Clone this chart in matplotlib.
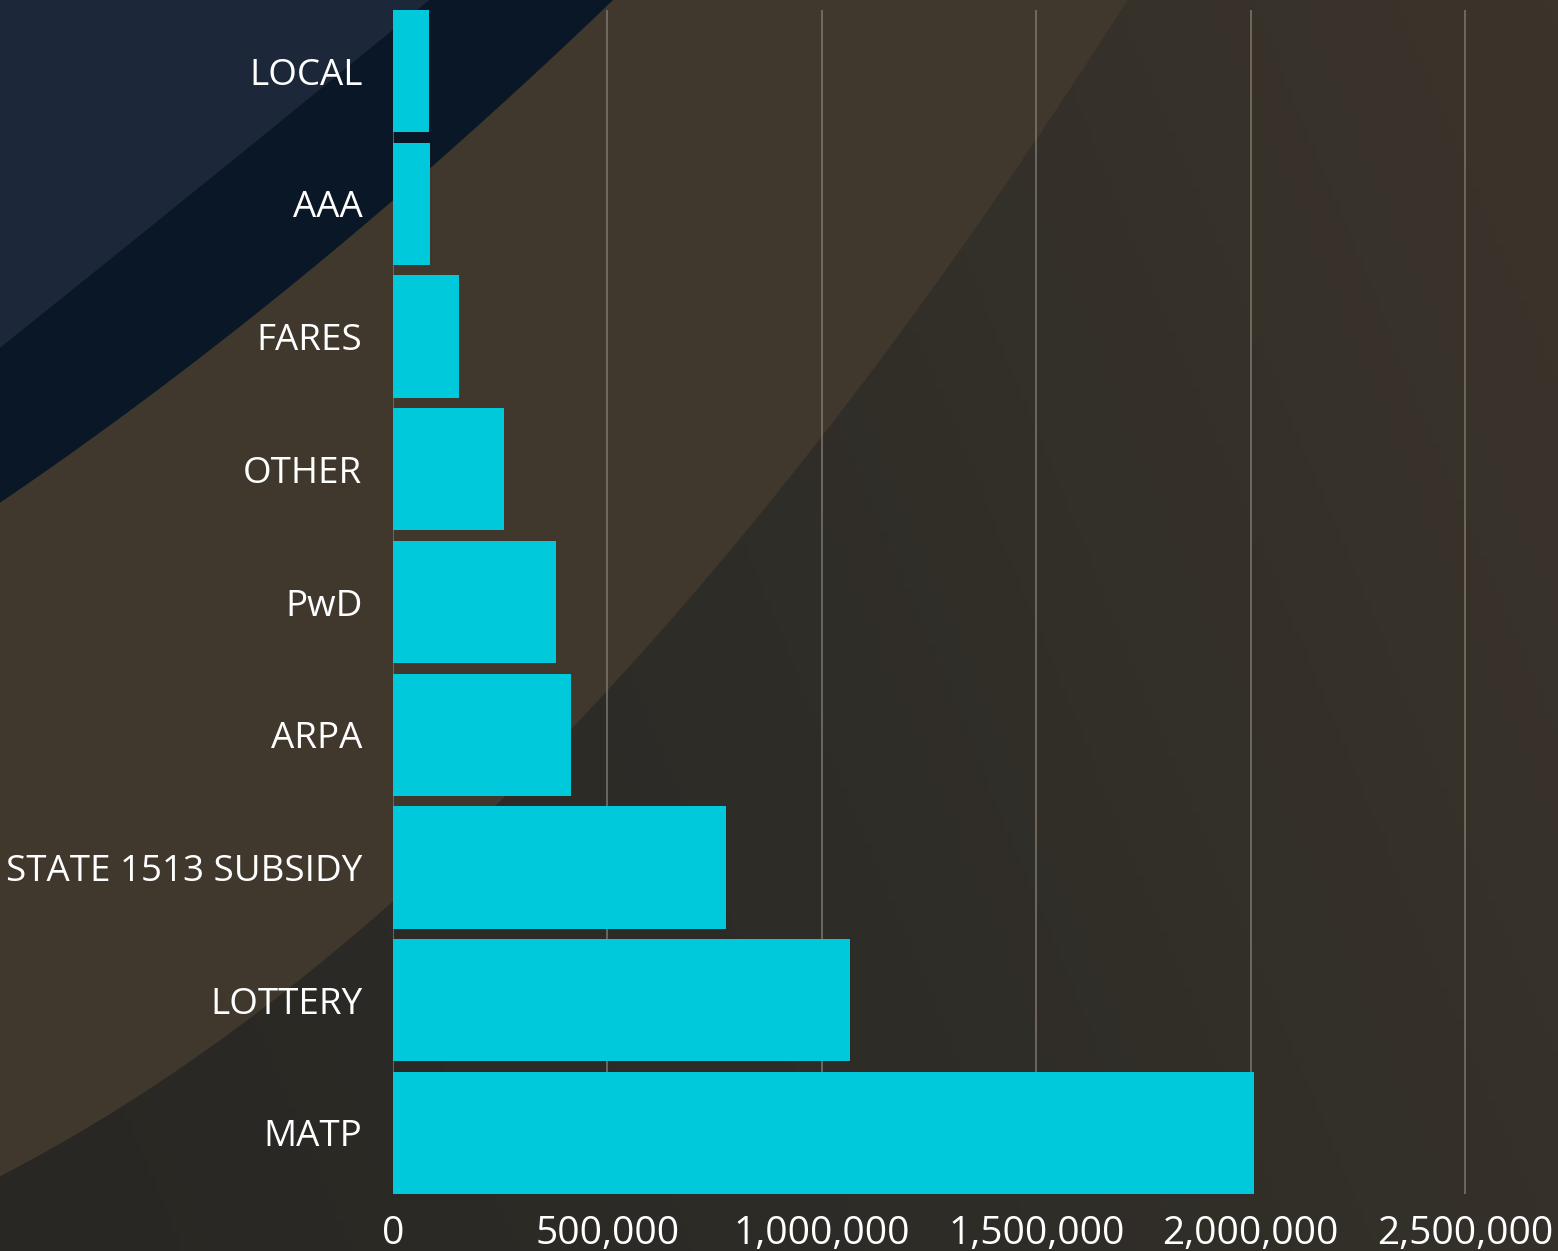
import numpy as np
import matplotlib.pyplot as plt
from matplotlib.colors import LinearSegmentedColormap
from matplotlib.ticker import FuncFormatter

# data (top to bottom)
categories = ['LOCAL', 'AAA', 'FARES', 'OTHER', 'PwD', 'ARPA',
              'STATE 1513 SUBSIDY', 'LOTTERY', 'MATP']
values = [84000, 86000, 154000, 259000, 380000, 415000, 776000, 1065000, 2007000]
xticks = [0, 500000, 1000000, 1500000, 2000000, 2500000]

plt.rcParams['font.family'] = ['Open Sans', 'DejaVu Sans']

W, H = 1558, 1251
fig = plt.figure(figsize=(W / 100, H / 100), dpi=100)

# background decoration in pixel coords (y down)
bg = fig.add_axes([0, 0, 1, 1])
bg.set_xlim(0, W)
bg.set_ylim(H, 0)
bg.axis('off')
grad = LinearSegmentedColormap.from_list('g', ['#282723', '#2f2d28', '#3b342b'])
gx, gy = np.meshgrid(np.linspace(0, 1, 200), np.linspace(0, 1, 200))
bg.imshow(gx * 0.75 + (1 - gy) * 0.25, cmap=grad, extent=[0, W, H, 0], aspect='auto')

xs = np.linspace(0, W, 400)


def band(pts, color):
    px, py = zip(*pts)
    c = np.polyfit(px, py, 2)
    yy = np.polyval(c, xs)
    bg.fill_between(xs, -10, yy, color=color, lw=0)


band([(0, 1180), (393, 892), (607, 688), (822, 443), (900, 342), (1035, 143), (1122, 0)], '#40382d')
band([(0, 504), (196, 357), (392, 205), (430, 168), (612, 0)], '#0a1727')
band([(0, 348), (196, 189), (392, 34), (426, 0)], '#1c2839')

# chart
ax = fig.add_axes([393 / W, 1 - 1194 / H, 1 - 393 / W, (1194 - 10) / H])
ax.set_facecolor('none')
ypos = np.arange(len(categories))
ax.barh(ypos, values, height=0.92, color='#00c9db', zorder=3)
ax.set_ylim(len(categories) - 0.54, -0.46)
ax.set_xlim(0, 2717000)
ax.set_xticks(xticks)
ax.xaxis.set_major_formatter(FuncFormatter(lambda v, p: f'{int(v):,}'))
ax.set_yticks(ypos)
ax.set_yticklabels(categories)
ax.grid(axis='x', color='#7d776d', linewidth=1.1, zorder=0)
ax.grid(axis='y', visible=False)
for s in ax.spines.values():
    s.set_visible(False)
ax.tick_params(axis='both', length=0, colors='white')
ax.tick_params(axis='y', pad=22, labelsize=26.5)
ax.tick_params(axis='x', pad=15, labelsize=28)

fig.savefig('out.png', dpi=100)
